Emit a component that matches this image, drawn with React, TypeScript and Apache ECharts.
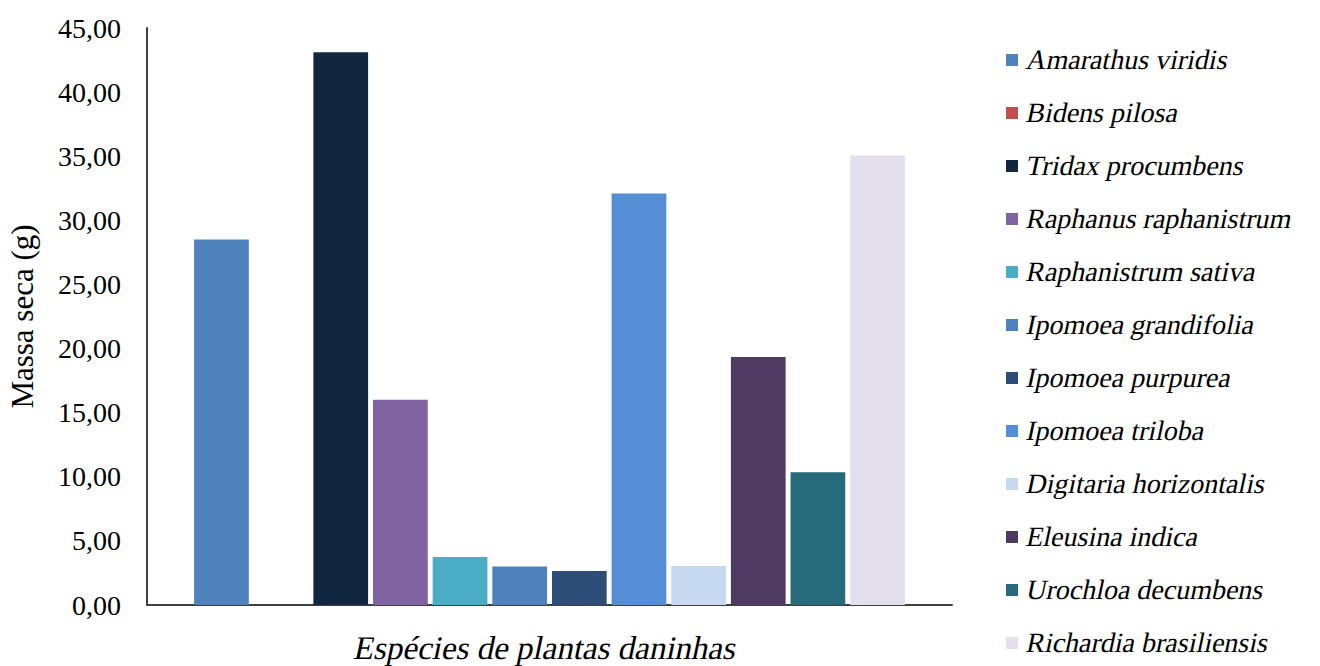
import React, { useEffect, useRef } from "react";
import * as echarts from "echarts";

const categories = ["Espécies"];
const speciesNames = [
  "Amarathus viridis",
  "Bidens pilosa",
  "Tridax procumbens",
  "Raphanus raphanistrum",
  "Raphanistrum sativa",
  "Ipomoea grandifolia",
  "Ipomoea purpurea",
  "Ipomoea triloba",
  "Digitaria horizontalis",
  "Eleusina indica",
  "Urochloa decumbens",
  "Richardia brasiliensis",
];
const massValues = [28.5, 0, 43.1, 16.0, 3.75, 3.0, 2.65, 32.1, 3.05, 19.35, 10.35, 35.05];
const speciesColors = [
  "#4F81BD",
  "#C0504D",
  "#13263F",
  "#8064A2",
  "#4BACC6",
  "#4F81BD",
  "#2C4D75",
  "#558ED5",
  "#C6D9F1",
  "#4F3B62",
  "#276A7C",
  "#E4DFEC",
];
const yTicks = { min: 0, max: 45, interval: 5 };

const FONT = "Liberation Serif";

// The serif italic face is not available, so italic texts are drawn with the
// upright serif face and slanted (synthetic italic).
function slantItalicTexts(chart: any) {
  try {
    const zr = chart.getZr();
    const roots = zr.storage.getRoots();
    const visit = (el: any) => {
      if (el && el.type === "text" && el.style && el.style.fontStyle === "italic") {
        el.setStyle("fontStyle", "normal");
        el.attr({
          skewX: -0.21,
          originX: el.style.x || 0,
          originY: el.style.y || 0,
        });
      }
    };
    roots.forEach((root: any) => {
      visit(root);
      if (root.traverse) root.traverse(visit);
    });
    zr.refreshImmediately();
  } catch (e) {
    // leave texts as they are
  }
}

export default function App() {
  const ref = useRef<HTMLDivElement>(null);
  useEffect(() => {
    if (!ref.current) return;
    const chart = echarts.init(ref.current, null, { renderer: "svg" });
    chart.setOption({
      animation: false,
      backgroundColor: "#ffffff",
      textStyle: { fontFamily: FONT },
      grid: {
        left: 147,
        right: 368,
        top: 28,
        bottom: 61,
        containLabel: false,
        outerBoundsMode: "none",
      },
      legend: {
        orient: "vertical",
        left: 1006,
        top: 45,
        padding: 0,
        height: 621,
        itemWidth: 12,
        itemHeight: 12,
        itemGap: 23,
        icon: "rect",
        data: speciesNames,
        textStyle: {
          fontFamily: FONT,
          fontStyle: "italic",
          fontSize: 28,
          color: "#000",
          lineHeight: 30,
          padding: [0, 0, 0, 4],
        },
      },
      xAxis: {
        type: "category",
        data: categories,
        axisLabel: { show: false },
        axisTick: { show: false },
        axisLine: { lineStyle: { color: "#404040", width: 2 } },
        name: "Espécies de plantas daninhas",
        nameLocation: "middle",
        nameGap: 26,
        nameTextStyle: {
          fontFamily: FONT,
          fontStyle: "italic",
          fontSize: 33,
          color: "#000",
        },
      },
      yAxis: {
        type: "value",
        min: yTicks.min,
        max: yTicks.max,
        interval: yTicks.interval,
        splitLine: { show: false },
        axisTick: { show: false },
        axisLine: { show: true, lineStyle: { color: "#404040", width: 2 } },
        axisLabel: {
          fontFamily: FONT,
          fontSize: 28,
          color: "#000",
          margin: 26,
          formatter: (v: number) => v.toFixed(2).replace(".", ","),
        },
        name: "Massa seca (g)",
        nameLocation: "middle",
        nameGap: 109,
        nameTextStyle: { fontFamily: FONT, fontSize: 31, color: "#000" },
      },
      series: speciesNames.map((name, i) => ({
        type: "bar",
        name,
        data: [massValues[i]],
        barGap: "9%",
        barCategoryGap: "11.7%",
        itemStyle: { color: speciesColors[i] },
      })),
    });
    slantItalicTexts(chart);
    return () => chart.dispose();
  }, []);
  return (
    <div
      ref={ref}
      style={{ position: "absolute", left: 0, top: 0, width: 1320, height: 666 }}
    />
  );
}
